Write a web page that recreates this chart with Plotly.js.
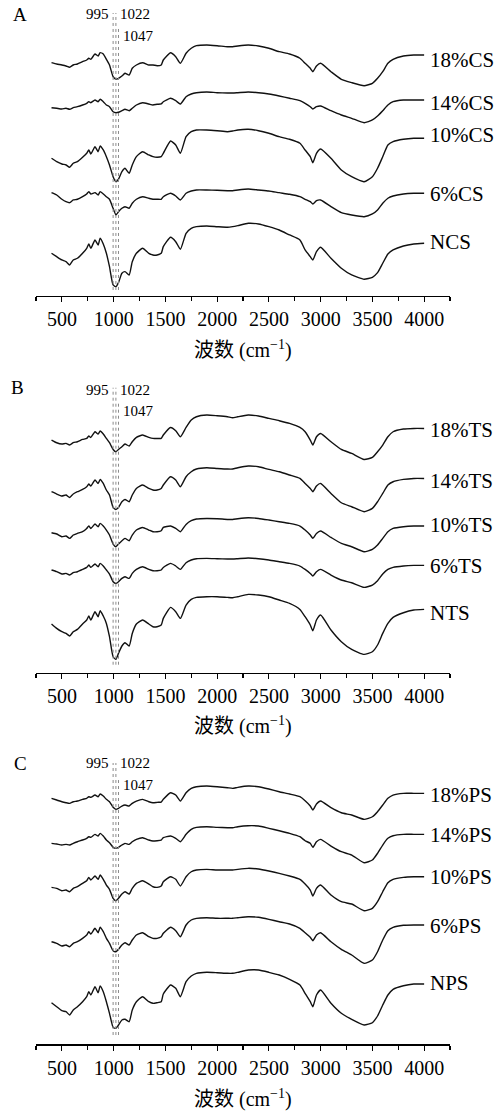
<!DOCTYPE html>
<html>
<head>
<meta charset="utf-8">
<script src="https://cdn.plot.ly/plotly-3.0.1.min.js"></script>
<style>
html,body{margin:0;padding:0;background:#fff;}
#chart{width:500px;height:1111px;}
</style>
</head>
<body>
<div id="chart"></div>
<script>
// ---- Data (wavenumber in cm-1; intensity in arbitrary units, offset-stacked) ----
const wavenumber = [400,450,500,540,575,610,650,700,740,760,780,820,850,870,900,930,960,995,1022,1047,1080,1110,1150,1180,1220,1280,1340,1380,1420,1460,1480,1550,1600,1645,1700,1750,1800,1900,2000,2100,2150,2200,2300,2400,2500,2600,2700,2800,2850,2900,2925,2960,3000,3100,3200,3300,3420,3500,3550,3600,3650,3700,3800,3900,4000];

const panelA_names = ["18%CS","14%CS","10%CS","6%CS","NCS"];
const cs18 = [233.3,232,231,230,228.7,231,232,234.3,236,237.7,236.7,242,240,243.3,242,236.7,231,219.3,216.7,217.7,220,222.7,221,227.7,231,233.3,231,231,230.3,231,236,243.3,239.3,232.7,242.7,247.7,250.3,251,250.3,249.3,249.3,250,251,250,247.7,244.3,242,237.7,232.7,227.7,224.3,230,232.7,224.3,216.7,213.3,210.3,212.7,217.7,224.3,232.7,236.7,240,241,241];
const cs14 = [188.3,187.7,187,187.7,186.7,188.3,189.3,191,192.7,194.3,193.3,196,194.3,196.7,194.3,191,189.3,184.3,183.3,183.7,185.3,186.7,185.3,187.7,191,193.3,192,191,191.7,192,194.3,197.7,195.3,192,199.3,202,203.3,204,203.3,203,203,203.3,204,203.3,202,200,197.7,195.3,192.7,189.3,187,189.3,190,185.3,181,177.7,173.3,176,180,185.3,191,194.3,196,196,196];
const cs10 = [137.7,134.3,132,131,128.7,132.7,134.3,138.7,142.7,146,142,149.3,144.3,150,146,139.3,131,119.3,114.3,116.7,124.3,127.7,122.7,131,139.3,144.3,141,139.3,138.7,139.3,142.7,155,151,142.7,159.3,164.3,166,166,165.3,164.3,165,166,166.7,165.3,162.7,159.3,156.7,152.7,146,139.3,133.3,142.7,147,137.7,126,119.3,114.3,119.3,127.7,139.3,151,154.3,156.7,157.7,157.7];
const cs6 = [103.3,101,96.7,94.3,93.3,96,96.7,99.3,102,104.3,102,103.3,101,104.3,102,99.3,96.7,87.7,81,84.3,87.7,89.3,87.7,92.7,96.7,99.3,97.7,96.7,96.7,96.7,99.3,102.7,100,96,102.7,105,106,106,105.7,105.3,105.3,106,107,106,105,103.3,101.7,99.3,96.7,94.3,92,95.3,96,89.3,83.3,81,79.3,82,86,92.7,97.7,100,102,102.7,102.7];
const ncs = [42.7,39.3,36,34.3,31,36,37.7,42.7,47.7,52,47.7,56,51,57.7,52,42.7,29.3,11,9.3,13.3,22.7,24.3,21,34.3,42.7,47.7,42.7,41,41,42.7,49.3,58.7,54.3,46.7,62.7,67.7,69.3,70,69.3,68.7,69.3,70.3,72.7,72,69.3,66,61,56,46,39.3,36,44.3,48.7,37.7,27.7,21,16.7,18.7,23.3,32.7,42,46,50,52,52.7];

const panelB_names = ["18%TS","14%TS","10%TS","6%TS","NTS"];
const ts18 = [232.7,230,228.7,229.3,227.7,230,231,233.3,234.3,236.7,235.3,241,238.7,241.7,238.7,234.3,230,223.3,221,223.3,226,228.7,226.7,231,235.3,237.7,235.3,234.3,234.3,234.3,237.7,245.3,242,236,245.3,252.7,256,257.7,257,256,255,256,257.7,256.7,254.3,252,249.3,245.3,241,232.7,227.7,236,239.3,231,223.3,219.3,213.3,215.3,221,227.7,236,241,243.7,244.3,244.3];
const ts14 = [181,178.7,176.7,177.7,175.3,178.7,181,183.3,186,188.7,186.7,192.7,189.3,193.3,189.3,182.7,177.7,165.3,163.3,165.3,171,173.3,171,177.7,184.3,187.7,184.3,182.7,182.7,184.3,187.7,196,192.7,186,196,201,203.7,205,204.3,203.7,203.7,205,206.7,206,203.3,201,197.7,194.3,189.3,184.3,181,186.7,189.3,179.3,170,166,161,164.3,171,179.3,187.7,191,193.3,194.3,194.3];
const ts10 = [140,138.7,136,136.7,134.3,137.7,139.3,141,144.3,146.7,144.3,148.7,146,149.3,146.7,142.7,137.7,128.7,126,128.7,132,134.3,132,137.7,142.7,145.3,142.7,141,141,142,145.3,146.7,144.3,141,148.3,152,153.7,154.3,154,153.3,153.3,154,155,154.3,152.7,151,149.3,146.7,142.7,137.7,134.3,139.3,141.7,135.3,129.3,126,121,123.3,127.7,134.3,141,144.3,146,146.7,146.7];
const ts6 = [102.7,101,98.7,99.3,97.7,100,101,103.3,105.3,107.7,105.3,108.7,106,109.3,106.7,102.7,98.7,91,89.3,91,94.3,96,94.3,99.3,103.3,106,103.3,102,102,102.7,105.3,109.3,106.7,103.3,110,112.7,114,114.3,114,113.7,113.7,114,114.7,114,112.7,111,109.3,106.7,103.3,99.3,96.7,101,103.3,97.7,92.7,90,85.3,87.7,92,98.7,103.3,105.3,106.7,107.3,107.3];
const nts = [48.7,44.3,41,39.3,36.7,41,43.3,48.7,52.7,56.7,52.7,61,56,62,56.7,49.3,36,16,13.3,19.3,26.7,30,26.7,39.3,48.7,52.7,48.7,46,46,47.7,54.3,65.3,61,54.3,67.7,73.3,75.3,76,76,75.3,75,76,78.3,77.7,76,72.7,69.3,63.3,56,47.7,42,52.7,57.7,42.7,31,23.3,18.3,21,27.7,39.3,49.3,55.3,60,62.7,63.3];

const panelC_names = ["18%PS","14%PS","10%PS","6%PS","NPS"];
const ps18 = [245.7,244,242.3,241.3,240.7,242.3,243,244.7,245.7,247.3,246.7,249,247.3,250,248,244.7,242.3,236.7,234.7,235.7,238,239,238,240.7,243,244.7,242.3,241.3,241.7,242,244.7,251.3,249,243,251.3,255.7,257.3,258,257.3,256.3,255.7,256.7,258,257.3,255,252.3,250,247.3,243.3,238,234,240,243,236.3,231.3,229,224.7,227.3,232.3,239,245.7,249,250.7,250.7,250.7];
const ps14 = [200.7,200,199,199.7,199,200.7,202.3,204,205.7,207.3,206.7,209.7,208,210.7,208,204,201.3,196.7,195.7,196.7,199,200.7,199.7,202.3,204.7,206.3,204,203,203.3,204,206.3,208,205.7,202.3,209.7,214.7,216.7,217.3,216.7,216.3,216.3,217.3,218.3,218,215.7,213.3,210.7,207.3,203.3,200.7,196.7,202.3,204.7,198,192.3,189,181.3,184,190.7,199,205.7,208.3,209.7,209.7,209.7];
const ps10 = [156.7,155.7,153.3,154,152.3,155.7,157.3,160.7,163.3,166.7,164,168,164.7,169,164.7,159,154.7,145.7,143.3,145.7,150,152.3,150,155.7,160.7,163.3,160,157.3,156.7,158,162.3,167.3,164.7,158,167.3,172.3,174,174.7,174,174,174,174.7,175.7,175,173,170.7,168,164.7,160,154,148,155.7,159,149,142.3,140,133.3,135.7,142.3,152.3,161.3,164.7,166.7,167.3,167.3];
const ps6 = [102.3,100.7,98,99,97.3,100.7,102.3,105.7,109,112.3,110,115.7,111.3,116.7,112.3,105.7,100.7,93.3,92.3,94.7,99,101.3,99,104,109,111.3,107.3,105.7,105.7,107.3,110.7,116.7,113.3,107.3,119,124,125.7,126.3,125.7,125.7,125.7,126.3,127.3,126.7,124.7,122.3,120,115.7,111.3,106.7,103.3,109,111.3,102.3,94.7,89,80.7,84,92.3,104,113.3,116.7,118.7,119,119];
const nps = [41.3,37.3,33.3,32.3,29,34,37.3,42.3,47.3,52.3,49,57.3,51.3,58,52.3,42.3,30.7,16.7,15.7,19,24,24.7,22.3,34,42.3,47.3,42.3,40.7,41.3,42.3,50,59,55.7,47.3,62.3,68,70.7,71.7,71.3,70.7,70.7,71.7,74,74,71.7,69,64.7,59,50.7,42.3,37.3,49,54,40.7,30.7,24.7,19,21.3,28,39,49,54.7,58.3,60,60];

// label heights (a.u.) for the right-hand series names
const labelA_y = [236,193,161,102,54];
const labelB_y = [243,192,148,107,60];
const labelC_y = [249,209,167,118,61];

const markerPeaks = [995, 1022, 1047];
const panelLetters = ["A","B","C"];
const tickValues = [500,1000,1500,2000,2500,3000,3500,4000];
const xTitle = "波数 (cm<sup>−1</sup>)";

// ---- Build ----
const SERIF = "Liberation Serif, 'Times New Roman', Noto Sans CJK SC, serif";
const panels = [
  {names: panelA_names, series: [cs18,cs14,cs10,cs6,ncs], labelY: labelA_y, xa:'x',  ya:'y',  dom:[0.7336,0.9946], peakTop:[283,283,267], peakBot:6, peakLblY:[282,282,260]},
  {names: panelB_names, series: [ts18,ts14,ts10,ts6,nts], labelY: labelB_y, xa:'x2', ya:'y2', dom:[0.3945,0.6555], peakTop:[285,285,271], peakBot:8, peakLblY:[283,283,262]},
  {names: panelC_names, series: [ps18,ps14,ps10,ps6,nps], labelY: labelC_y, xa:'x3', ya:'y3', dom:[0.0603,0.3213], peakTop:[281,281,264], peakBot:9, peakLblY:[281,281,259]}
];

const data = [];
const annotations = [];
const shapes = [];
const layout = {
  width: 500, height: 1111,
  margin: {l: 36, r: 50, t: 0, b: 0},
  paper_bgcolor: '#fff', plot_bgcolor: '#fff',
  showlegend: false,
  font: {family: SERIF, color: '#000'}
};

const letterPos = [[-0.0386, 0.9865],[-0.0435, 0.6508],[-0.0386, 0.3132]];
const titleY = [0.6850, 0.3474, 0.0117];

panels.forEach((p, i) => {
  const sfx = i === 0 ? '' : String(i + 1);
  p.series.forEach((ys, k) => {
    data.push({
      x: wavenumber, y: ys, type: 'scatter', mode: 'lines',
      xaxis: p.xa, yaxis: p.ya, name: p.names[k],
      line: {color: '#111', width: 1.4, shape: 'spline', smoothing: 0.5},
      hoverinfo: 'skip'
    });
    annotations.push({
      xref: p.xa, yref: p.ya, x: 4035, y: p.labelY[k],
      text: p.names[k], showarrow: false, xanchor: 'left', yanchor: 'middle',
      font: {family: SERIF, size: 21, color: '#000'}
    });
  });
  layout['xaxis' + sfx] = {
    domain: [0, 1], range: [250, 4250], anchor: 'y' + sfx,
    showline: true, linecolor: '#000', linewidth: 1.5,
    ticks: 'outside', ticklen: 5, tickwidth: 1.2, tickcolor: '#000',
    tickmode: 'array', tickvals: tickValues, ticktext: tickValues.map(String),
    minor: {tick0: 250, dtick: 250, ticks: 'outside', ticklen: 4, tickwidth: 1.2, tickcolor: '#000'},
    showgrid: false, zeroline: false, automargin: false, fixedrange: true,
    tickfont: {family: SERIF, size: 20, color: '#000'}
  };
  layout['yaxis' + sfx] = {
    domain: p.dom, range: [0, 290], anchor: 'x' + sfx,
    visible: false, showgrid: false, zeroline: false, fixedrange: true
  };
  // vertical reference lines
  markerPeaks.forEach((w, j) => {
    shapes.push({
      type: 'line', xref: p.xa, yref: p.ya,
      x0: w, x1: w, y0: p.peakBot, y1: p.peakTop[j],
      line: {color: '#8a8a8a', width: 1, dash: 'dot'}
    });
  });
  annotations.push({xref: p.xa, yref: p.ya, x: markerPeaks[0], y: p.peakLblY[0], text: String(markerPeaks[0]),
    showarrow: false, xanchor: 'right', yanchor: 'middle', xshift: -2, font: {family: SERIF, size: 15, color: '#000'}});
  annotations.push({xref: p.xa, yref: p.ya, x: markerPeaks[1], y: p.peakLblY[1], text: String(markerPeaks[1]),
    showarrow: false, xanchor: 'left', yanchor: 'middle', xshift: 2, font: {family: SERIF, size: 15, color: '#000'}});
  annotations.push({xref: p.xa, yref: p.ya, x: markerPeaks[2], y: p.peakLblY[2], text: String(markerPeaks[2]),
    showarrow: false, xanchor: 'left', yanchor: 'middle', xshift: 3, font: {family: SERIF, size: 15, color: '#000'}});
  // panel letter
  annotations.push({xref: 'paper', yref: 'paper', x: letterPos[i][0], y: letterPos[i][1], text: panelLetters[i],
    showarrow: false, xanchor: 'center', yanchor: 'middle', font: {family: SERIF, size: 19, color: '#000'}});
  // axis title
  annotations.push({xref: 'paper', yref: 'paper', x: 0.5, y: titleY[i], text: xTitle,
    showarrow: false, xanchor: 'center', yanchor: 'middle', font: {family: SERIF, size: 20, color: '#000'}});
});

layout.annotations = annotations;
layout.shapes = shapes;

Plotly.newPlot('chart', data, layout, {displayModeBar: false, staticPlot: true});
</script>
</body>
</html>
